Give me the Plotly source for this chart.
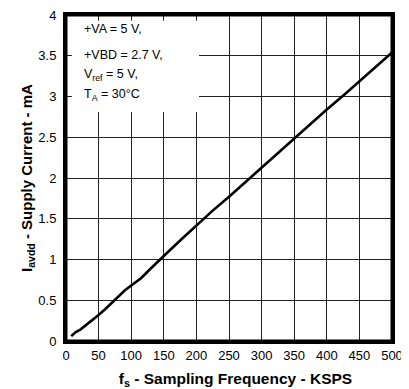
import plotly.graph_objects as go

# supply current vs sampling frequency
freq_ksps = [8, 15, 22, 30, 40, 50, 60, 75, 90, 100, 115, 130, 145, 160, 180,
             200, 225, 250, 275, 300, 325, 350, 375, 400, 425, 450, 475, 500]
iavdd_ma = [0.06, 0.11, 0.14, 0.19, 0.26, 0.32, 0.39, 0.50, 0.62, 0.68, 0.77, 0.89,
            1.01, 1.12, 1.27, 1.42, 1.60, 1.77, 1.95, 2.13, 2.31, 2.49, 2.67, 2.84,
            3.01, 3.19, 3.37, 3.54]

x_ticks = [0, 50, 100, 150, 200, 250, 300, 350, 400, 450, 500]
y_ticks = [0, 0.5, 1, 1.5, 2, 2.5, 3, 3.5, 4]

cond_lines = ["+VA = 5 V,", "+VBD = 2.7 V,", "V<sub>ref</sub> = 5 V,", "T<sub>A</sub> = 30°C"]
cond_y = [3.825, 3.51, 3.26, 3.02]

FONT = "Liberation Sans, Arial, sans-serif"

fig = go.Figure()
fig.add_trace(go.Scatter(x=freq_ksps, y=iavdd_ma, mode="lines",
                         line=dict(color="black", width=2.6), showlegend=False))

# white box behind the test conditions, hiding the grid
fig.add_shape(type="rect", xref="x", yref="y", x0=9, x1=204, y0=2.81, y1=3.93,
              fillcolor="white", line_width=0, layer="between")
# heavy frame round the plot area
fig.add_shape(type="rect", xref="x domain", yref="y domain", x0=0, x1=1, y0=0, y1=1,
              line=dict(color="black", width=3), layer="above")

for txt, yy in zip(cond_lines, cond_y):
    fig.add_annotation(x=25, y=yy, xref="x", yref="y", text=txt, showarrow=False,
                       xanchor="left", yanchor="middle",
                       font=dict(family=FONT, size=12.5, color="black"))

axis_common = dict(showline=True, linecolor="black", linewidth=3, mirror=True,
                   showgrid=True, gridcolor="#222", gridwidth=1, zeroline=False,
                   ticks="", automargin=False, ticklabeloverflow="allow",
                   tickfont=dict(family=FONT, size=13, color="black"))

# leading nbsp nudges the title a little right, as in the reference
fig.update_xaxes(range=[0, 500], tickvals=x_ticks,
                 title=dict(text="&nbsp;&nbsp;&nbsp;<b>f<sub>s</sub> - Sampling Frequency - KSPS</b>",
                            font=dict(family=FONT, size=15.5, color="black"), standoff=14),
                 **axis_common)
fig.update_yaxes(range=[0, 4], tickvals=y_ticks, ticklabelstandoff=4,
                 title=dict(text="<b>I<sub>avdd</sub> - Supply Current - mA</b>",
                            font=dict(family=FONT, size=15, color="black"), standoff=3),
                 **axis_common)

# page body adds an 8px offset, so the figure is sized to end at the window edge
fig.update_layout(width=401, height=381, margin=dict(l=58, r=17, t=7, b=48),
                  plot_bgcolor="white", paper_bgcolor="white",
                  font=dict(family=FONT, color="black"))

fig.write_html("out.html")
